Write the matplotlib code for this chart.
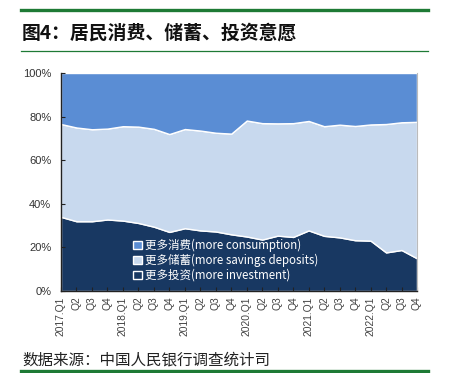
import matplotlib
matplotlib.use("Agg")
import matplotlib.pyplot as plt
from matplotlib.patches import Patch
from matplotlib.lines import Line2D

plt.rcParams['font.family'] = ['Noto Sans CJK SC', 'DejaVu Sans']

quarters = ["2017.Q1", "Q2", "Q3", "Q4", "2018.Q1", "Q2", "Q3", "Q4",
            "2019.Q1", "Q2", "Q3", "Q4", "2020.Q1", "Q2", "Q3", "Q4",
            "2021.Q1", "Q2", "Q3", "Q4", "2022.Q1", "Q2", "Q3", "Q4"]
investment = [34.0, 32.0, 32.0, 32.8, 32.3, 31.2, 29.5, 27.1, 28.8, 27.8, 27.3, 26.0,
              25.0, 23.6, 25.4, 24.8, 27.8, 25.3, 24.6, 23.3, 23.1, 17.7, 18.8, 15.0]
savings = [42.6, 43.0, 42.2, 41.7, 43.3, 44.2, 44.9, 44.9, 45.5, 45.8, 45.3, 46.2,
           53.2, 53.4, 51.5, 52.2, 50.2, 50.3, 51.7, 52.4, 53.3, 58.9, 58.6, 62.6]
consumption = [23.4, 25.0, 25.8, 25.5, 24.4, 24.6, 25.6, 28.0, 25.7, 26.4, 27.4, 27.8,
               21.8, 23.0, 23.1, 23.0, 22.0, 24.4, 23.7, 24.3, 23.6, 23.4, 22.6, 22.4]
labels = ["更多消费(more consumption)", "更多储蓄(more savings deposits)", "更多投资(more investment)"]
colors = {"consumption": "#5A8DD4", "savings": "#C8D9EE", "investment": "#183862"}

fig = plt.figure(figsize=(4.49, 3.73), dpi=100)
ax = fig.add_axes([61/449, 1-291/373, 356/449, 218/373])

x = list(range(len(quarters)))
ax.stackplot(x, investment, savings, consumption,
             colors=[colors["investment"], colors["savings"], colors["consumption"]],
             edgecolor="white", linewidth=1.0)
ax.set_xlim(0, len(quarters) - 1)
ax.set_ylim(0, 100)
ax.set_yticks([0, 20, 40, 60, 80, 100])
ax.set_yticklabels(["0%", "20%", "40%", "60%", "80%", "100%"],
                   fontfamily="Liberation Sans", fontsize=8, color="#333333")
ax.set_xticks(x)
ax.set_xticklabels(quarters, rotation=90, fontfamily="Liberation Sans", fontsize=7.4, color="#444444")
ax.tick_params(axis="both", direction="in", length=3, width=0.8, color="#222222")
ax.tick_params(axis="y", pad=7)
ax.tick_params(axis="x", pad=4)
for s in ["left", "bottom"]:
    ax.spines[s].set_color("#222222")
    ax.spines[s].set_linewidth(1.0)
ax.spines["right"].set_color("#BBBBBB")
ax.spines["top"].set_visible(False)

handles = [Patch(facecolor=colors["consumption"], edgecolor="white", linewidth=1.0),
           Patch(facecolor=colors["savings"], edgecolor="white", linewidth=1.0),
           Patch(facecolor=colors["investment"], edgecolor="white", linewidth=1.0)]
leg = ax.legend(handles, labels, loc="upper left", bbox_to_anchor=((133-61)/356, (291-239)/218),
                frameon=False, fontsize=8.3, labelcolor="white", handlelength=0.75, handleheight=0.75,
                handletextpad=0.3, labelspacing=0.15, borderaxespad=0, borderpad=0)

# title, rules and source
fig.add_artist(Line2D([21/449, 428/449], [1-10/373, 1-10/373], color="#1E7A35", linewidth=2.4))
fig.add_artist(Line2D([21/449, 428/449], [1-51/373, 1-51/373], color="#1E7A35", linewidth=0.9))
fig.add_artist(Line2D([21/449, 428/449], [1-371/373, 1-371/373], color="#1E7A35", linewidth=2.4))
fig.text(22/449, 1-33/373, "图4：居民消费、储蓄、投资意愿", fontsize=13.6, fontweight="bold",
         color="#111111", va="center", ha="left")
fig.text(22/449, 1-360/373, "数据来源：中国人民银行调查统计司", fontsize=11.2,
         color="#222222", va="center", ha="left")

fig.savefig("out.png", dpi=100)
